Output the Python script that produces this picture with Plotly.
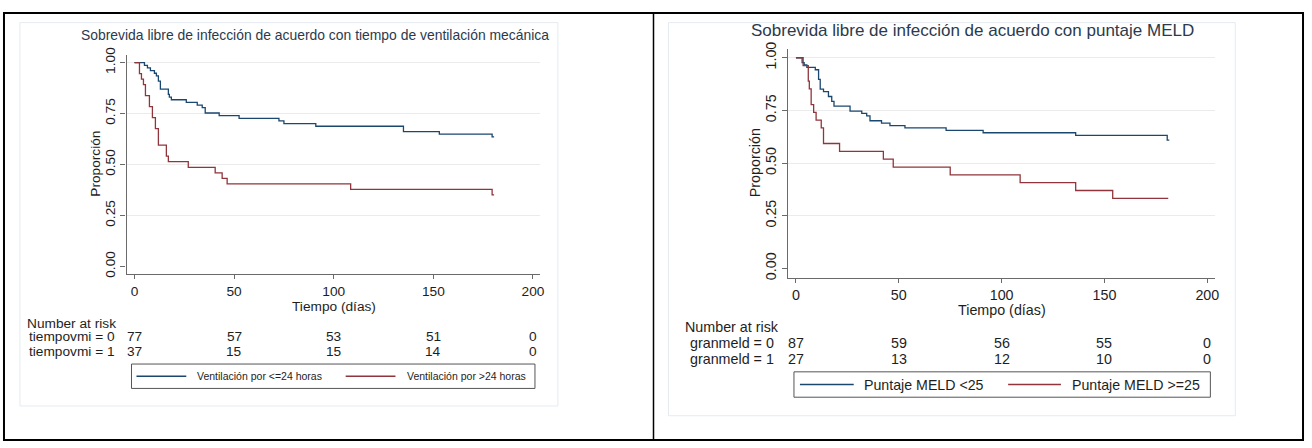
import plotly.graph_objects as go

# ---- Kaplan-Meier estimates (days, survival proportion) ----
# Panel A: mechanical ventilation time
vent_le24_days = [0, 5, 6.5, 8, 10, 11, 12, 13, 17, 17.5, 18.5, 26, 31.5, 34, 35.5,
                  42.5, 52.5, 72.5, 75, 91, 135, 153, 179.5, 180.5]
vent_le24_surv = [1.0, .987, .974, .961, .948, .935, .909, .870, .844, .831, .818, .805,
                  .792, .779, .753, .740, .727, .714, .701, .688, .662, .649, .636, .636]
vent_gt24_days = [0, 2.5, 3.5, 4.5, 5.5, 7.5, 9, 10.5, 12, 16, 17, 27, 40.5, 44, 46.5,
                  108.5, 179.5, 180.5]
vent_gt24_surv = [1.0, .946, .919, .892, .838, .784, .730, .676, .595, .541, .514, .486,
                  .459, .432, .405, .378, .351, .351]

# Panel B: MELD score
meld_lt25_days = [0, 3, 4, 5.3, 9.4, 11, 11.8, 13.4, 15.8, 17.4, 18.5, 26.3, 32, 34.4,
                  36, 41.6, 45.7, 53, 73, 91, 136, 180.5, 181.5]
meld_lt25_surv = [1.0, .977, .966, .954, .943, .897, .851, .839, .816, .793, .770, .747,
                  .736, .724, .701, .690, .678, .667, .655, .644, .632, .609, .609]
meld_ge25_days = [0, 3.5, 6, 6.5, 7.4, 8.6, 9.8, 12.3, 13.4, 21.2, 42.5, 47.3, 75, 109,
                  136, 154, 181]
meld_ge25_surv = [1.0, .963, .889, .852, .778, .741, .704, .667, .593, .556, .519, .481,
                  .444, .407, .370, .333, .333]

# ---- Number at risk ----
risk_times = [0, 50, 100, 150, 200]
risk_vent0 = [77, 57, 53, 51, 0]
risk_vent1 = [37, 15, 15, 14, 0]
risk_meld0 = [87, 59, 56, 55, 0]
risk_meld1 = [27, 13, 12, 10, 0]

y_ticks = [0, 0.25, 0.5, 0.75, 1.0]
y_ticktext = ["0.00", "0.25", "0.50", "0.75", "1.00"]
x_ticks = [0, 50, 100, 150, 200]

NAVY = "#1a476f"
MAROON = "#90353b"
TXT = "#1e1e1e"
TITLE = "#2b3a4d"
AXC = "#6a6a6a"
FONT = "Arial, Liberation Sans, sans-serif"

W, H = 1312, 448


def fx(x):
    return x / W


def fy(y):
    return 1 - y / H


panels = [
    dict(
        xa="xaxis", ya="yaxis", xref="x", yref="y",
        x_dom=(127, 542), y_dom=(273, 48), x_rng=(-4, 203.5), y_rng=(-0.0383, 1.0383),
        fs=13.7, frame=(20, 15, 560, 408),
        title="Sobrevida libre de infección de acuerdo con tiempo de ventilación mecánica",
        title_xy=(316, 28), title_fs=13.9,
        ylab_x=95, ylab_y=160, xlab_y=306,
        risk_head=(25, 323), risk_rows=(337, 352), risk_lab_x=117,
        risk_names=["tiempovmi = 0", "tiempovmi = 1"],
        risk_vals=[risk_vent0, risk_vent1],
        curves=[(vent_le24_days, vent_le24_surv, NAVY), (vent_gt24_days, vent_gt24_surv, MAROON)],
        leg_box=(132, 365, 537, 390), leg_fs=10.5,
        leg_items=[(137, 187, 196, "Ventilación por <=24 horas", NAVY),
                   (347, 397, 407, "Ventilación por >24 horas", MAROON)],
    ),
    dict(
        xa="xaxis2", ya="yaxis2", xref="x2", yref="y2",
        x_dom=(791, 1220), y_dom=(277, 42), x_rng=(-3.87, 203.9), y_rng=(-0.0463, 1.0417),
        fs=14.3, frame=(671, 15, 1240, 418),
        title="Sobrevida libre de infección de acuerdo con puntaje MELD",
        title_xy=(976, 23), title_fs=17,
        ylab_x=758, ylab_y=159, xlab_y=310,
        risk_head=(686, 327), risk_rows=(343, 360), risk_lab_x=779,
        risk_names=["granmeld = 0", "granmeld = 1"],
        risk_vals=[risk_meld0, risk_meld1],
        curves=[(meld_lt25_days, meld_lt25_surv, NAVY), (meld_ge25_days, meld_ge25_surv, MAROON)],
        leg_box=(797, 373, 1215, 399), leg_fs=14.2,
        leg_items=[(803, 857, 865, "Puntaje MELD <25", NAVY),
                   (1012, 1065, 1074, "Puntaje MELD >=25", MAROON)],
    ),
]

fig = go.Figure()
shapes = []
annotations = []
layout_axes = {}

for p in panels:
    for days, surv, col in p["curves"]:
        fig.add_trace(go.Scatter(
            x=days, y=surv, mode="lines", line=dict(color=col, width=1.3, shape="hv"),
            xaxis=p["xref"], yaxis=p["yref"], showlegend=False, hoverinfo="skip",
        ))

    layout_axes[p["xa"]] = dict(
        domain=[fx(p["x_dom"][0]), fx(p["x_dom"][1])], range=list(p["x_rng"]),
        anchor=p["yref"], tickvals=x_ticks, ticks="outside", ticklen=4, tickcolor=AXC,
        showline=True, linecolor=AXC, linewidth=1.2, showgrid=False, zeroline=False,
        tickfont=dict(family=FONT, size=p["fs"], color=TXT),
    )
    layout_axes[p["ya"]] = dict(
        domain=[fy(p["y_dom"][0]), fy(p["y_dom"][1])], range=list(p["y_rng"]),
        anchor=p["xref"], tickvals=y_ticks, ticktext=y_ticktext, tickangle=-90,
        ticks="outside", ticklen=5, tickcolor=AXC, showline=True, linecolor=AXC,
        linewidth=1.2, showgrid=True, gridcolor="#ebebeb", gridwidth=1,
        zeroline=True, zerolinecolor="white", zerolinewidth=1,
        tickfont=dict(family=FONT, size=p["fs"], color=TXT),
    )

    # inner graph region outline
    x0, y0, x1, y1 = p["frame"]
    shapes.append(dict(type="rect", xref="paper", yref="paper", x0=fx(x0), x1=fx(x1),
                       y0=fy(y1), y1=fy(y0), line=dict(color="#e4ebf1", width=1), layer="below"))

    # title and axis titles
    annotations.append(dict(text=p["title"], xref="paper", yref="paper",
                            x=fx(p["title_xy"][0]), y=fy(p["title_xy"][1]), showarrow=False,
                            xanchor="center", yanchor="middle",
                            font=dict(family=FONT, size=p["title_fs"], color=TITLE)))
    annotations.append(dict(text="Proporción", xref="paper", yref="paper", textangle=-90,
                            x=fx(p["ylab_x"]), y=fy(p["ylab_y"]), showarrow=False,
                            xanchor="center", yanchor="middle",
                            font=dict(family=FONT, size=p["fs"], color=TXT)))
    annotations.append(dict(text="Tiempo (días)", xref=p["xref"], yref="paper",
                            x=100, y=fy(p["xlab_y"]), showarrow=False,
                            xanchor="center", yanchor="middle",
                            font=dict(family=FONT, size=p["fs"], color=TXT)))

    # number-at-risk table
    annotations.append(dict(text="Number at risk", xref="paper", yref="paper",
                            x=fx(p["risk_head"][0]), y=fy(p["risk_head"][1]), showarrow=False,
                            xanchor="left", yanchor="middle",
                            font=dict(family=FONT, size=p["fs"], color=TXT)))
    for name, vals, row_y in zip(p["risk_names"], p["risk_vals"], p["risk_rows"]):
        annotations.append(dict(text=name, xref="paper", yref="paper",
                                x=fx(p["risk_lab_x"]), y=fy(row_y), showarrow=False,
                                xanchor="right", yanchor="middle",
                                font=dict(family=FONT, size=p["fs"], color=TXT)))
        for t, v in zip(risk_times, vals):
            annotations.append(dict(text=str(v), xref=p["xref"], yref="paper",
                                    x=t, y=fy(row_y), showarrow=False,
                                    xanchor="center", yanchor="middle",
                                    font=dict(family=FONT, size=p["fs"], color=TXT)))

    # legend box
    bx0, by0, bx1, by1 = p["leg_box"]
    shapes.append(dict(type="rect", xref="paper", yref="paper", x0=fx(bx0), x1=fx(bx1),
                       y0=fy(by1), y1=fy(by0), line=dict(color="#555555", width=1),
                       fillcolor="white"))
    ly = (by0 + by1) / 2
    for lx0, lx1, tx, label, col in p["leg_items"]:
        shapes.append(dict(type="line", xref="paper", yref="paper", x0=fx(lx0), x1=fx(lx1),
                           y0=fy(ly), y1=fy(ly), line=dict(color=col, width=1.3)))
        annotations.append(dict(text=label, xref="paper", yref="paper", x=fx(tx), y=fy(ly),
                                showarrow=False, xanchor="left", yanchor="middle",
                                font=dict(family=FONT, size=p["leg_fs"], color=TXT)))

# outer black frame and divider
shapes.append(dict(type="rect", xref="paper", yref="paper", x0=fx(4), x1=fx(1308),
                   y0=fy(443), y1=fy(5), line=dict(color="black", width=2)))
shapes.append(dict(type="line", xref="paper", yref="paper", x0=fx(656), x1=fx(656),
                   y0=fy(443), y1=fy(5), line=dict(color="black", width=1.5)))

fig.update_layout(
    width=W, height=H, margin=dict(l=0, r=0, t=0, b=0),
    paper_bgcolor="white", plot_bgcolor="white",
    shapes=shapes, annotations=annotations, showlegend=False,
    **layout_axes,
)

fig.write_html("out.html")
